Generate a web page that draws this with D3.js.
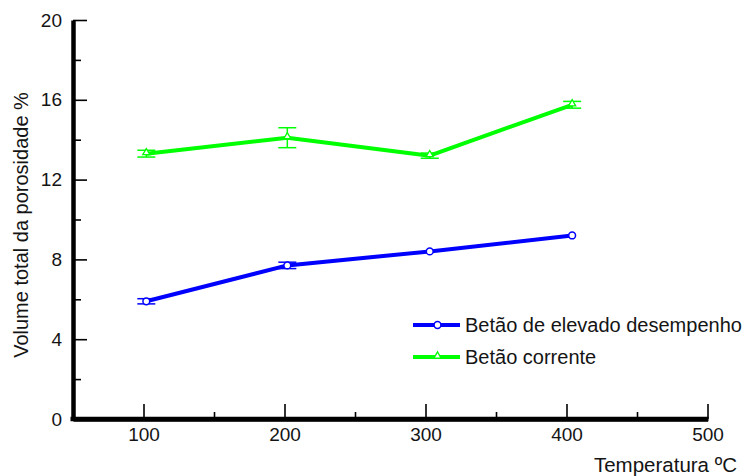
<!DOCTYPE html>
<html>
<head>
<meta charset="utf-8">
<script src="https://cdn.jsdelivr.net/npm/d3@7"></script>
<style>
  html, body { margin: 0; padding: 0; background: #fff; }
  svg { display: block; font-family: "Liberation Sans", Arial, sans-serif; }
</style>
</head>
<body>
<svg id="chart" width="750" height="476"></svg>
<script>
// Temperatures (ºC) at which porosity was measured
const temperatures = [102, 202, 303, 404];

// Total porosity volume (%) and error half-widths for each concrete type
const highPerfValues = [5.9, 7.7, 8.4, 9.2];
const highPerfErrors = [0.13, 0.16, 0, 0];
const regularValues = [13.3, 14.1, 13.2, 15.75];
const regularErrors = [0.17, 0.5, 0.13, 0.17];

const seriesNames = ["Betão de elevado desempenho", "Betão corrente"];

// Axis ticks
const xMajorTicks = [100, 200, 300, 400, 500];
const xMinorTicks = [150, 250, 350, 450];
const yMajorTicks = [0, 4, 8, 12, 16, 20];
const yMinorTicks = [2, 6, 10, 14, 18];

const svg = d3.select("#chart");
const textColor = "#141414";

const x = d3.scaleLinear().domain([50, 500]).range([73, 707.5]);
const y = d3.scaleLinear().domain([0, 20]).range([419, 20]);

const series = [
  { name: seriesNames[0], color: "#0000ff", symbol: "circle",
    points: temperatures.map((t, i) => ({ t, v: highPerfValues[i], e: highPerfErrors[i] })) },
  { name: seriesNames[1], color: "#00ff00", symbol: "triangle",
    points: temperatures.map((t, i) => ({ t, v: regularValues[i], e: regularErrors[i] })) }
];

// ---- Axes ----
const yAxis = svg.append("g").attr("transform", `translate(${x(50)},0)`)
  .call(d3.axisLeft(y).tickValues(yMajorTicks).tickSizeInner(-14).tickSizeOuter(0)
    .tickPadding(11).tickFormat(d3.format("d")));
const yMinor = svg.append("g").attr("transform", `translate(${x(50)},0)`)
  .call(d3.axisLeft(y).tickValues(yMinorTicks).tickSizeInner(-8).tickSizeOuter(0).tickFormat(""));
yMinor.select(".domain").remove();

const xAxis = svg.append("g").attr("transform", `translate(0,${y(0)})`)
  .call(d3.axisBottom(x).tickValues(xMajorTicks).tickSizeInner(-15).tickSizeOuter(0)
    .tickPadding(9).tickFormat(d3.format("d")));
const xMinor = svg.append("g").attr("transform", `translate(0,${y(0)})`)
  .call(d3.axisBottom(x).tickValues(xMinorTicks).tickSizeInner(-7).tickSizeOuter(0).tickFormat(""));
xMinor.select(".domain").remove();

[yAxis, xAxis].forEach(g => {
  g.select(".domain").attr("stroke", "#000").attr("stroke-width", 4.5);
  g.selectAll("text").attr("font-size", 19).attr("fill", textColor)
    .attr("font-family", "Liberation Sans, Arial, sans-serif");
});
xAxis.selectAll("text").attr("dy", "0.71em");
[yAxis, xAxis, yMinor, xMinor].forEach(g =>
  g.selectAll(".tick line").attr("stroke", "#000").attr("stroke-width", 1.6));

// Extend the x axis line to meet the y axis
svg.append("line")
  .attr("x1", x(50) - 2.5).attr("x2", x(500) + 1)
  .attr("y1", y(0)).attr("y2", y(0))
  .attr("stroke", "#000").attr("stroke-width", 4.5);

// Axis titles
svg.append("text")
  .attr("x", 737).attr("y", 472)
  .attr("text-anchor", "end").attr("font-size", 20.5).attr("fill", textColor)
  .text("Temperatura ºC");

svg.append("text")
  .attr("transform", `translate(28,${(83 + 367) / 2}) rotate(-90)`)
  .attr("text-anchor", "middle").attr("font-size", 20).attr("fill", textColor)
  .text("Volume total da porosidade %");

// ---- Series ----
const line = d3.line().x(d => x(d.t)).y(d => y(d.v));
const capHalf = 9;

function drawMarker(g, s, cx, cy) {
  if (s.symbol === "circle") {
    g.append("circle").attr("cx", cx).attr("cy", cy).attr("r", 3.4)
      .attr("fill", "#fff").attr("stroke", s.color).attr("stroke-width", 1.5);
  } else {
    g.append("path").attr("d", d3.symbol(d3.symbolTriangle, 22)())
      .attr("transform", `translate(${cx},${cy - 1})`)
      .attr("fill", "#fff").attr("stroke", s.color).attr("stroke-width", 1.3);
  }
}

series.forEach(s => {
  const g = svg.append("g");
  // error bars (skipped where the spread is negligible)
  s.points.filter(p => p.e > 0).forEach(p => {
    const cx = x(p.t), yt = y(p.v + p.e), yb = y(p.v - p.e);
    g.append("line").attr("x1", cx).attr("x2", cx).attr("y1", yt).attr("y2", yb)
      .attr("stroke", s.color).attr("stroke-width", 1.5);
    [yt, yb].forEach(yy => g.append("line")
      .attr("x1", cx - capHalf).attr("x2", cx + capHalf).attr("y1", yy).attr("y2", yy)
      .attr("stroke", s.color).attr("stroke-width", 1.5));
  });
  g.append("path").datum(s.points).attr("d", line)
    .attr("fill", "none").attr("stroke", s.color).attr("stroke-width", 4)
    .attr("stroke-linejoin", "round");
  s.points.forEach(p => drawMarker(g, s, x(p.t), y(p.v)));
});

// ---- Legend ----
const legendRows = [325, 357];
series.forEach((s, i) => {
  const ly = legendRows[i];
  const g = svg.append("g");
  g.append("line").attr("x1", 413).attr("x2", 460).attr("y1", ly).attr("y2", ly)
    .attr("stroke", s.color).attr("stroke-width", 4);
  drawMarker(g, s, 437.5, ly);
  g.append("text").attr("x", 465).attr("y", ly + 7)
    .attr("font-size", 20).attr("fill", textColor).text(s.name);
});
</script>
</body>
</html>
